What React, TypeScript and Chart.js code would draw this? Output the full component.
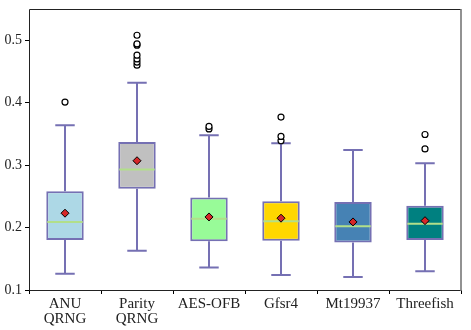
import React, { useEffect, useRef } from "react";
import { Chart, registerables } from "chart.js";

Chart.register(...registerables);

const categories: string[][] = [["ANU", "QRNG"], ["Parity", "QRNG"], ["AES-OFB"], ["Gfsr4"], ["Mt19937"], ["Threefish"]];
const whiskerLow = [0.126, 0.163, 0.136, 0.124, 0.121, 0.130];
const q1 = [0.180, 0.262, 0.178, 0.179, 0.176, 0.180];
const medians = [0.209, 0.293, 0.214, 0.210, 0.202, 0.206];
const q3 = [0.258, 0.337, 0.248, 0.242, 0.241, 0.235];
const whiskerHigh = [0.364, 0.432, 0.348, 0.335, 0.324, 0.303];
const means = [0.223, 0.307, 0.217, 0.215, 0.209, 0.211];
const outliers: number[][] = [
  [0.401],
  [0.460, 0.465, 0.470, 0.476, 0.492, 0.494, 0.508],
  [0.358, 0.362],
  [0.339, 0.346, 0.377],
  [],
  [0.326, 0.349],
];
const yTicks = [0.1, 0.2, 0.3, 0.4, 0.5];
const boxColors = ["#ADD8E6", "#C0C0C0", "#98FB98", "#FFD700", "#4682B4", "#008080"];
const edgeColor = "#7570b3";
const medianColor = "#b2df8a";

const FONT = "'Liberation Serif', 'DejaVu Serif', serif";

export default function App() {
  const ref = useRef<HTMLCanvasElement>(null);
  useEffect(() => {
    document.body.style.margin = "0";
    const boxPlugin = {
      id: "boxParts",
      beforeDatasetsDraw(chart: any) {
        const ctx = chart.ctx;
        const x = chart.scales.x;
        const y = chart.scales.y;
        const cap = (x.getPixelForValue(1) - x.getPixelForValue(0)) * 0.27;
        ctx.save();
        ctx.strokeStyle = edgeColor;
        ctx.lineWidth = 2;
        categories.forEach((_, i) => {
          const cx = x.getPixelForValue(i);
          ctx.beginPath();
          ctx.moveTo(cx, y.getPixelForValue(q3[i]));
          ctx.lineTo(cx, y.getPixelForValue(whiskerHigh[i]));
          ctx.moveTo(cx, y.getPixelForValue(q1[i]));
          ctx.lineTo(cx, y.getPixelForValue(whiskerLow[i]));
          ctx.moveTo(cx - cap / 2, y.getPixelForValue(whiskerHigh[i]));
          ctx.lineTo(cx + cap / 2, y.getPixelForValue(whiskerHigh[i]));
          ctx.moveTo(cx - cap / 2, y.getPixelForValue(whiskerLow[i]));
          ctx.lineTo(cx + cap / 2, y.getPixelForValue(whiskerLow[i]));
          ctx.stroke();
        });
        ctx.restore();
      },
      afterDatasetDraw(chart: any, args: any) {
        if (args.index !== 0) return;
        const ctx = chart.ctx;
        const x = chart.scales.x;
        const y = chart.scales.y;
        const meta = chart.getDatasetMeta(0);
        ctx.save();
        ctx.strokeStyle = medianColor;
        ctx.lineWidth = 2;
        meta.data.forEach((bar: any, i: number) => {
          const w = bar.width - 2;
          const cx = x.getPixelForValue(i);
          const py = y.getPixelForValue(medians[i]);
          ctx.beginPath();
          ctx.moveTo(cx - w / 2, py);
          ctx.lineTo(cx + w / 2, py);
          ctx.stroke();
        });
        ctx.restore();
      },
      afterDraw(chart: any) {
        const { ctx, chartArea } = chart;
        ctx.save();
        ctx.strokeStyle = "#222";
        ctx.lineWidth = 1;
        ctx.beginPath();
        ctx.moveTo(chartArea.right, chartArea.top + 0.5);
        ctx.lineTo(chartArea.left + 0.5, chartArea.top + 0.5);
        ctx.lineTo(chartArea.left + 0.5, chartArea.bottom + 0.5);
        ctx.lineTo(chartArea.right, chartArea.bottom + 0.5);
        ctx.stroke();
        ctx.strokeStyle = "#777";
        ctx.lineWidth = 1.6;
        ctx.beginPath();
        ctx.moveTo(chartArea.right, chartArea.top);
        ctx.lineTo(chartArea.right, chartArea.bottom + 1);
        ctx.stroke();
        ctx.restore();
      },
    };

    const outlierData: { x: string[]; y: number }[] = [];
    outliers.forEach((arr, i) => arr.forEach((v) => outlierData.push({ x: categories[i], y: v })));

    const chart = new Chart(ref.current!, {
      type: "bar",
      data: {
        labels: categories,
        datasets: [
          {
            type: "bar",
            data: categories.map((_, i) => [q1[i], q3[i]]),
            backgroundColor: boxColors,
            borderColor: edgeColor,
            borderWidth: 2,
            borderSkipped: false,
            barPercentage: 0.52,
            categoryPercentage: 1,
            order: 3,
          } as any,
          {
            type: "line",
            data: means.map((v, i) => ({ x: categories[i], y: v })),
            showLine: false,
            pointStyle: "rectRot",
            pointRadius: 4,
            pointBackgroundColor: "#d62728",
            pointBorderColor: "#000",
            pointBorderWidth: 1,
            order: 1,
          } as any,
          {
            type: "line",
            data: outlierData,
            showLine: false,
            pointStyle: "circle",
            pointRadius: 3,
            pointBackgroundColor: "#fff",
            pointBorderColor: "#000",
            pointBorderWidth: 1.2,
            order: 2,
          } as any,
        ],
      },
      options: {
        animation: false,
        responsive: false,
        maintainAspectRatio: false,
        layout: { padding: { top: 9, right: 10, left: 0, bottom: 0 } },
        plugins: { legend: { display: false }, tooltip: { enabled: false } },
        scales: {
          x: {
            type: "category",
            offset: true,
            grid: { display: true, drawOnChartArea: false, drawTicks: true, tickLength: 4, color: "#000" },
            border: { display: false },
            ticks: { color: "#222", font: { family: FONT, size: 15, lineHeight: 1.02 }, padding: 2, maxRotation: 0, autoSkip: false },
            afterFit(s: any) { s.height = 40; s.paddingLeft = 0; s.paddingRight = 0; },
          },
          y: {
            type: "linear",
            min: 0.1,
            max: 0.55,
            grid: { display: true, drawOnChartArea: false, drawTicks: true, tickLength: 4, color: "#000" },
            border: { display: false },
            afterBuildTicks(s: any) { s.ticks = yTicks.map((v) => ({ value: v })); },
            ticks: { color: "#222", font: { family: FONT, size: 14 }, padding: 3, callback: (v: any) => Number(v).toFixed(1) },
            afterFit(s: any) { s.width = 29; s.paddingTop = 0; s.paddingBottom = 0; },
          },
        },
      },
      plugins: [boxPlugin],
    } as any);
    return () => chart.destroy();
  }, []);
  return (
    <div style={{ position: "absolute", left: 0, top: 0, width: 471, height: 330 }}>
      <canvas ref={ref} width={471} height={330} style={{ width: 471, height: 330 }} />
    </div>
  );
}
